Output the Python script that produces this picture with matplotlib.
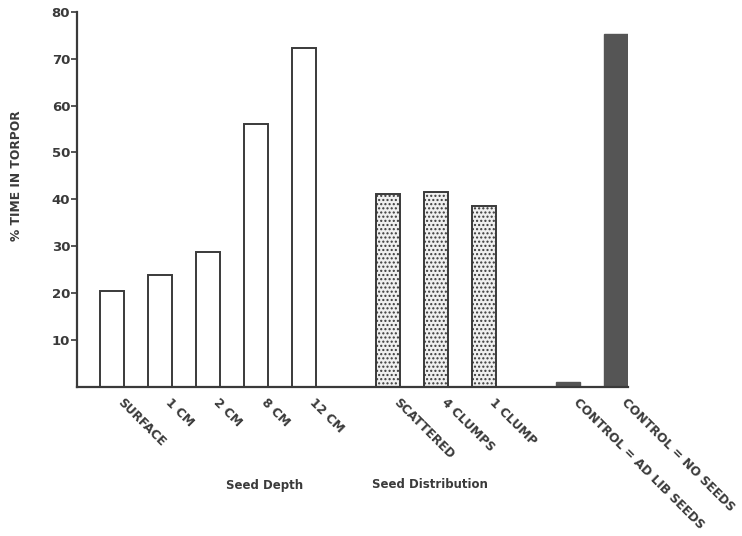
import matplotlib.pyplot as plt
from matplotlib.transforms import blended_transform_factory

# valeurs
depth_labels = ["SURFACE", "1 CM", "2 CM", "8 CM", "12 CM"]
depth_values = [20.5, 23.9, 28.8, 56.0, 72.2]

dist_labels = ["SCATTERED", "4 CLUMPS", "1 CLUMP"]
dist_values = [41.2, 41.6, 38.6]

ctrl_labels = ["CONTROL = AD LIB SEEDS", "CONTROL = NO SEEDS"]
ctrl_values = [1.0, 75.2]

depth_pos = [0, 1, 2, 3, 4]
dist_pos = [5.75, 6.75, 7.75]
ctrl_pos = [9.5, 10.5]

yticks = [10, 20, 30, 40, 50, 60, 70, 80]

ink = "#3a3a3a"
plt.rcParams['font.family'] = ['DejaVu Sans']

fig = plt.figure(figsize=(7.42, 5.36), dpi=100)
ax = fig.add_axes([0.104, 0.278, 0.742, 0.70])

w = 0.5
ax.bar(depth_pos, depth_values, width=w, facecolor="white", edgecolor=ink, linewidth=1.4)
ax.bar(dist_pos, dist_values, width=w, facecolor="#f0f0f0", edgecolor=ink, linewidth=1.4, hatch="....")
ax.bar(ctrl_pos, ctrl_values, width=w, facecolor="#555555", edgecolor="#555555", linewidth=1.0)

ax.set_xlim(-0.73, 10.75)
ax.set_ylim(0, 80)
ax.set_yticks(yticks)
ax.set_yticklabels([str(t) for t in yticks], fontsize=9.5, fontweight="bold", color=ink)
ax.tick_params(axis="y", direction="out", length=4, width=1.2, color=ink, pad=1)
ax.set_xticks([])

for s in ["top", "right"]:
    ax.spines[s].set_visible(False)
for s in ["left", "bottom"]:
    ax.spines[s].set_color(ink)
    ax.spines[s].set_linewidth(1.6)

trans = blended_transform_factory(ax.transData, ax.transAxes)
all_pos = depth_pos + dist_pos + ctrl_pos
all_labels = depth_labels + dist_labels + ctrl_labels
for p, lab in zip(all_pos, all_labels):
    ax.text(p + 0.25, -0.025, lab, transform=trans, rotation=-45, rotation_mode="anchor",
            ha="left", va="top", fontsize=8.8, fontweight="bold", color=ink)

fig.text(265 / 742, 1 - 485 / 536, "Seed Depth", ha="center", va="center",
         fontsize=8.5, fontweight="bold", color=ink)
fig.text(430 / 742, 1 - 485 / 536, "Seed Distribution", ha="center", va="center",
         fontsize=8.5, fontweight="bold", color=ink)
fig.text(17 / 742, 1 - 176 / 536, "% TIME IN TORPOR", rotation=90, ha="center", va="center",
         fontsize=8.8, fontweight="bold", color=ink)

fig.savefig("out.png", dpi=100)
